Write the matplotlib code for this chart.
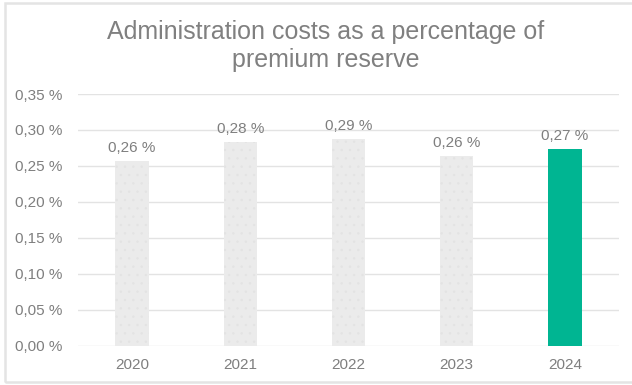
import matplotlib.pyplot as plt
from matplotlib.patches import Rectangle

years = ["2020", "2021", "2022", "2023", "2024"]
cost_pct = [0.257, 0.283, 0.287, 0.264, 0.274]
bar_colors = ["#ebebeb", "#ebebeb", "#ebebeb", "#ebebeb", "#00b592"]
yticks = [0.00, 0.05, 0.10, 0.15, 0.20, 0.25, 0.30, 0.35]

plt.rcParams["font.family"] = ["Liberation Sans", "DejaVu Sans"]
plt.rcParams["hatch.color"] = "#e3e3e3"
plt.rcParams["hatch.linewidth"] = 0.5

fig = plt.figure(figsize=(6.32, 3.85), dpi=100)
ax = fig.add_axes([78 / 632, 1 - 345.7 / 385, 541 / 632, 251.7 / 385])

x = range(len(years))
bars = ax.bar(x, cost_pct, width=0.31, color=bar_colors, linewidth=0, zorder=2)
for b in bars[:-1]:
    b.set_hatch("..")

def fmt(v):
    return f"{v:.2f}".replace(".", ",") + " %"

for xi, v in zip(x, cost_pct):
    ax.text(xi, v + 0.0085, fmt(v), ha="center", va="bottom",
            fontsize=11, color="#7f7f7f")

ax.set_xlim(-0.5, 4.5)
ax.set_ylim(0, 0.35)
ax.set_yticks(yticks)
ax.set_yticklabels([fmt(t) for t in yticks])
ax.set_xticks(list(x))
ax.set_xticklabels(years)
ax.tick_params(axis="both", length=0, labelsize=11, labelcolor="#7f7f7f")
ax.tick_params(axis="y", pad=11)
ax.tick_params(axis="x", pad=9)
ax.grid(axis="y", color="#e3e3e3", linewidth=1, zorder=0)
for s in ax.spines.values():
    s.set_visible(False)

fig.text(326 / 632, 1 - 46 / 385, "Administration costs as a percentage of\npremium reserve",
         ha="center", va="center", fontsize=18, color="#808080", linespacing=1.18)

# light frame around the chart area
fig.patches.append(Rectangle((5 / 632, 3 / 385), 640 / 632, 379 / 385,
                             transform=fig.transFigure, fill=False,
                             edgecolor="#e4e4e4", linewidth=1.8))

fig.savefig("out.png", dpi=100)
